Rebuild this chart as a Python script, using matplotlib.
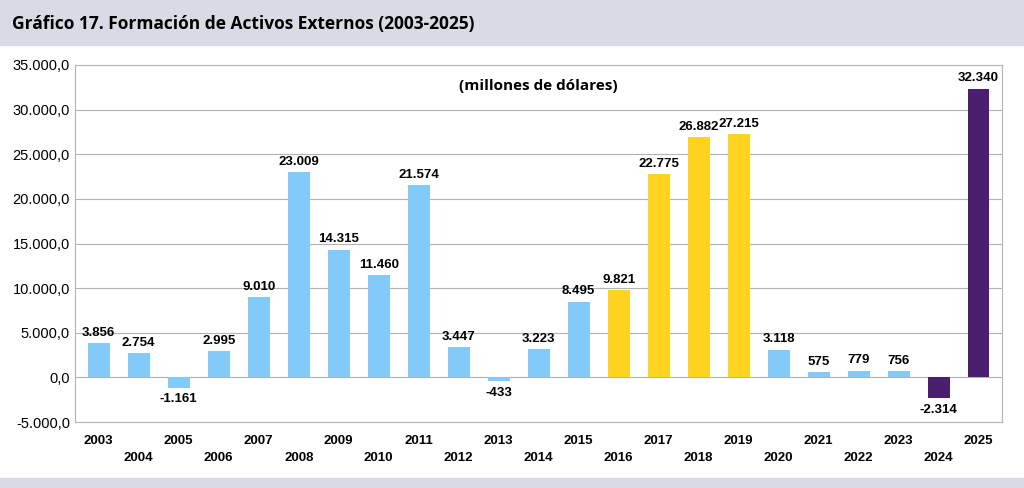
import matplotlib
matplotlib.use('Agg')
import matplotlib.pyplot as plt
import numpy as np

plt.rcParams['font.family'] = ['Liberation Sans', 'DejaVu Sans']

years = list(range(2003, 2026))
values = [3856, 2754, -1161, 2995, 9010, 23009, 14315, 11460, 21574, 3447, -433,
          3223, 8495, 9821, 22775, 26882, 27215, 3118, 575, 779, 756, -2314, 32340]
labels = ['3.856', '2.754', '-1.161', '2.995', '9.010', '23.009', '14.315', '11.460',
          '21.574', '3.447', '-433', '3.223', '8.495', '9.821', '22.775', '26.882',
          '27.215', '3.118', '575', '779', '756', '-2.314', '32.340']

BLUE, YELLOW, PURPLE = '#83CAFA', '#FFD320', '#4B1F6F'
colors = []
for y in years:
    if 2016 <= y <= 2019:
        colors.append(YELLOW)
    elif y >= 2024:
        colors.append(PURPLE)
    else:
        colors.append(BLUE)

fig = plt.figure(figsize=(10.24, 4.88), dpi=100)
# banners
fig.patches.append(plt.Rectangle((0, 1 - 45/488), 1, 45/488, transform=fig.transFigure,
                                 color='#d9dbe4', zorder=0))
fig.patches.append(plt.Rectangle((0, 0), 1, 10/488, transform=fig.transFigure,
                                 color='#d9dbe4', zorder=0))
fig.text(0.012, 1 - 24/488, 'Gráfico 17. Formación de Activos Externos (2003-2025)',
         fontsize=12.5, fontweight='bold', va='center', family='Open Sans')

ax = fig.add_axes([0.073, 0.135, 0.906, 0.732])
x = np.arange(len(years))
ax.bar(x, values, width=0.55, color=colors, zorder=3)
ax.set_ylim(-5000, 35000)
ax.set_xlim(-0.6, len(years) - 0.4)
yt = np.arange(-5000, 35001, 5000)
ax.set_yticks(yt)
ax.set_yticklabels([f'{v:,.1f}'.replace(',', 'X').replace('.', ',').replace('X', '.') for v in yt],
                   fontsize=10.5)
ax.yaxis.grid(True, color='#b3b3b3', linewidth=0.8, zorder=0)
for s in ax.spines.values():
    s.set_color('#b3b3b3')
ax.tick_params(axis='y', length=0)
ax.set_xticks(x)
ax.set_xticklabels([])
ax.tick_params(axis='x', length=0)
for i, y in enumerate(years):
    off = 0 if i % 2 == 0 else 1
    ax.annotate(str(y), (i, 0), xycoords=('data', 'axes fraction'),
                xytext=(0, -19 - 17 * off), textcoords='offset pixels',
                ha='center', va='center', fontsize=9.5, fontweight='bold')
for i, (v, l) in enumerate(zip(values, labels)):
    if v >= 0:
        ax.annotate(l, (i, v), xytext=(0, 3), textcoords='offset points',
                    ha='center', va='bottom', fontsize=9.5, fontweight='bold')
    else:
        ax.annotate(l, (i, v), xytext=(0, -4), textcoords='offset points',
                    ha='center', va='top', fontsize=9.5, fontweight='bold')
ax.text(0.5, 0.94, '(millones de dólares)', transform=ax.transAxes, ha='center',
        va='center', fontsize=11, fontweight='bold', family='Open Sans')
fig.savefig('out.png', dpi=100)
